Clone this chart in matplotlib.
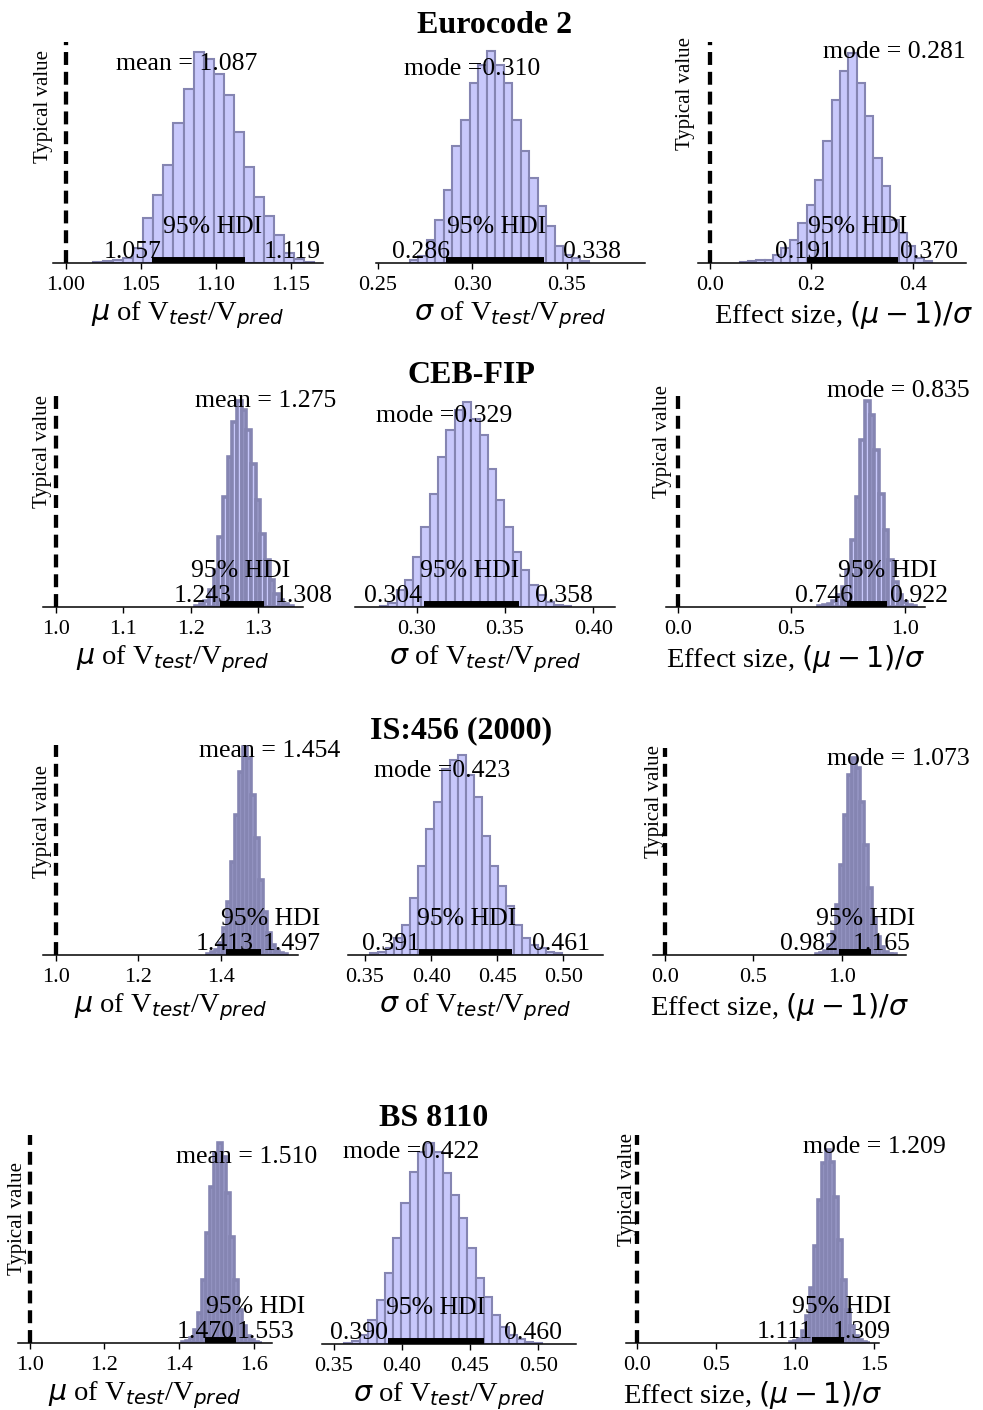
import numpy as np
import matplotlib
matplotlib.use("Agg")
from matplotlib import pyplot as plt

plt.rcParams['font.family'] = ['Liberation Serif', 'DejaVu Serif']
plt.rcParams['mathtext.fontset'] = 'dejavusans'

# --- data -----------------------------------------------------------------
codes = ["Eurocode 2", "CEB-FIP", "IS:456 (2000)", "BS 8110"]

# posterior histograms: first bin edge, bin width, relative bar heights
ec2_mu_start, ec2_mu_width = 1.018, 0.0067
ec2_mu_counts = [3, 5, 8, 15, 45, 135, 205, 295, 420, 525, 635, 615, 570, 505,
                 395, 290, 200, 140, 85, 30, 12, 4]
ec2_sd_start, ec2_sd_width = 0.267, 0.0045
ec2_sd_counts = [8, 20, 70, 130, 220, 350, 430, 540, 595, 638, 595, 540, 430,
                 335, 255, 170, 110, 50, 25, 15, 5]
ec2_es_start, ec2_es_width = 0.0585, 0.0165
ec2_es_counts = [3, 5, 8, 10, 25, 45, 70, 120, 175, 250, 365, 490, 575, 630,
                 540, 440, 315, 230, 130, 90, 50, 15, 5]

ceb_mu_start, ceb_mu_width = 1.2064, 0.0069
ceb_mu_counts = [3, 8, 18, 50, 110, 210, 330, 450, 555, 617, 590, 530, 430,
                 320, 220, 140, 80, 40, 20, 10, 4]
ceb_sd_start, ceb_sd_width = 0.2792, 0.0047
ceb_sd_counts = [4, 12, 50, 80, 150, 240, 340, 450, 530, 590, 614, 565, 515,
                 415, 320, 240, 165, 110, 65, 35, 15, 7, 2]
ceb_es_start, ceb_es_width = 0.6187, 0.0205
ceb_es_counts = [2, 5, 10, 18, 35, 60, 110, 200, 330, 500, 617, 575, 470, 340,
                 230, 140, 75, 35, 15, 6, 2]

is_mu_start, is_mu_width = 1.3653, 0.00968
is_mu_counts = [3, 8, 15, 35, 80, 160, 280, 420, 550, 625, 590, 480, 350, 225,
                130, 65, 30, 12, 5, 2]
is_sd_start, is_sd_width = 0.354, 0.00605
is_sd_counts = [5, 8, 20, 50, 90, 170, 265, 375, 455, 555, 580, 595, 535, 470,
                355, 265, 205, 145, 90, 50, 30, 20, 10, 5]
is_es_start, is_es_width = 0.857, 0.0226
is_es_counts = [2, 5, 12, 30, 70, 150, 270, 420, 540, 590, 560, 460, 330, 200,
                110, 55, 25, 10, 4, 2]

bs_mu_start, bs_mu_width = 1.4076, 0.01075
bs_mu_counts = [2, 6, 15, 40, 90, 190, 330, 470, 570, 600, 560, 450, 320, 190,
                100, 50, 20, 8, 3, 1]
bs_sd_start, bs_sd_width = 0.3573, 0.00605
bs_sd_counts = [4, 10, 27, 72, 132, 212, 317, 422, 517, 577, 602, 577, 512,
                447, 377, 287, 197, 142, 87, 52, 27, 14, 7, 4]
bs_es_start, bs_es_width = 0.969, 0.0253
bs_es_counts = [2, 5, 12, 35, 80, 165, 290, 430, 540, 580, 545, 440, 310, 190,
                100, 50, 22, 9, 3, 1]

# central statistic and 95% HDI per panel
ec2_stats = [("mean = ", 1.087, 1.057, 1.119), ("mode =", 0.310, 0.286, 0.338),
             ("mode = ", 0.281, 0.191, 0.370)]
ceb_stats = [("mean = ", 1.275, 1.243, 1.308), ("mode =", 0.329, 0.304, 0.358),
             ("mode = ", 0.835, 0.746, 0.922)]
is_stats = [("mean = ", 1.454, 1.413, 1.497), ("mode =", 0.423, 0.391, 0.461),
            ("mode = ", 1.073, 0.982, 1.165)]
bs_stats = [("mean = ", 1.510, 1.470, 1.553), ("mode =", 0.422, 0.390, 0.460),
            ("mode = ", 1.209, 1.111, 1.309)]

ticks = [
    ["1.00", "1.05", "1.10", "1.15"], ["0.25", "0.30", "0.35"], ["0.0", "0.2", "0.4"],
    ["1.0", "1.1", "1.2", "1.3"], ["0.30", "0.35", "0.40"], ["0.0", "0.5", "1.0"],
    ["1.0", "1.2", "1.4"], ["0.35", "0.40", "0.45", "0.50"], ["0.0", "0.5", "1.0"],
    ["1.0", "1.2", "1.4", "1.6"], ["0.35", "0.40", "0.45", "0.50"], ["0.0", "0.5", "1.0", "1.5"],
]
typical = [1.0, None, 0.0]
xlabels = [r'$\mu$ of V$_{test}$/V$_{pred}$', r'$\sigma$ of V$_{test}$/V$_{pred}$',
           r'Effect size, $(\mu-1)/\sigma$']

hists = [
    (ec2_mu_start, ec2_mu_width, ec2_mu_counts), (ec2_sd_start, ec2_sd_width, ec2_sd_counts),
    (ec2_es_start, ec2_es_width, ec2_es_counts),
    (ceb_mu_start, ceb_mu_width, ceb_mu_counts), (ceb_sd_start, ceb_sd_width, ceb_sd_counts),
    (ceb_es_start, ceb_es_width, ceb_es_counts),
    (is_mu_start, is_mu_width, is_mu_counts), (is_sd_start, is_sd_width, is_sd_counts),
    (is_es_start, is_es_width, is_es_counts),
    (bs_mu_start, bs_mu_width, bs_mu_counts), (bs_sd_start, bs_sd_width, bs_sd_counts),
    (bs_es_start, bs_es_width, bs_es_counts),
]
stats = ec2_stats + ceb_stats + is_stats + bs_stats

# --- layout (pixels of the 983x1410 picture) -------------------------------
W, H = 983, 1410
boxes = [(53, 323, 263, 42), (376, 645, 263, 42), (698, 966, 263, 42),
         (43, 303, 607, 395), (355, 615, 607, 395), (666, 925, 607, 394),
         (43, 298, 955, 745), (348, 603, 955, 745), (653, 906, 955, 748),
         (18, 272, 1343, 1135), (322, 576, 1344, 1135), (626, 879, 1343, 1135)]
xlims = [(0.9913, 1.1713), (0.2491, 0.3912), (-0.0237, 0.505),
         (0.9812, 1.3664), (0.2651, 0.4123), (-0.0515, 1.088),
         (0.9693, 1.5863), (0.3371, 0.5300), (-0.0654, 1.363),
         (0.9686, 1.6494), (0.3415, 0.5276), (-0.0676, 1.5335)]
peak_frac = [0.955, 0.961, 0.950, 0.970, 0.965, 0.965,
             0.992, 0.952, 0.950, 0.960, 0.960, 0.928]
stat_frac = [0.915, 0.886, 0.976, 0.974, 0.906, 1.023,
             0.95, 0.89, 0.966, 0.90, 0.927, 0.984]
stat_dx = [-10, -19, 42, 24, -24, 31, 26, -19, 44, 27, -21, 47]
lo_dx = [10, 4, 26, 12, -2, 6, 27, 1, -1, 30, 0, 0]
hi_dx = [19, 19, 2, 11, 16, 3, 2, 20, -18, 1, 20, -11]
hdi_dx = [15, 2, 5, -1, -2, 20, 27, 1, 11, 35, 0, 14]
label_dx = [0, 0, 12, 0, 0, 0, 0, 0, 0, 0, 0, 0]
tv_off = {0: (-13, 8), 2: (-15, -5), 3: (-4, 0), 5: (-6, -9),
          6: (-4, 20), 8: (-1, -3), 9: (-3, 27), 11: (0, -2)}
titles_xy = [(495, 33), (471, 383), (461, 738), (434, 1126)]

face = '#c8c8fb'
edge = '#8585b2'


def draw_panel(fig, i):
    l, r, b, t = boxes[i]
    ax = fig.add_axes([l / W, 1 - b / H, (r - l) / W, (b - t) / H])
    start, width, counts = hists[i]
    counts = np.array(counts, dtype=float)
    edges = start + width * np.arange(len(counts))
    # narrow bins end up almost all outline, as in the original
    bar_px = width * (r - l) / (xlims[i][1] - xlims[i][0])
    lw = 1.5 if bar_px > 6 else 2.6
    ax.bar(edges, counts, width=width, align='edge', color=face,
           edgecolor=edge, linewidth=lw, zorder=2)
    peak = counts.max()
    ax.set_ylim(0, peak / peak_frac[i])
    ax.set_xlim(*xlims[i])

    label, val, lo, hi = stats[i]
    ax.plot([lo, hi], [0, 0], color='k', lw=8.6, solid_capstyle='butt',
            zorder=4, clip_on=True)
    ax.annotate('%s%.3f' % (label, val), xy=(val, stat_frac[i] * peak),
                xytext=(stat_dx[i], 0), textcoords='offset pixels',
                ha='center', va='baseline', fontsize=18.5, zorder=5)
    ax.annotate('95% HDI', xy=((lo + hi) / 2, 0), xytext=(hdi_dx[i], 30),
                textcoords='offset pixels', ha='center', va='baseline',
                fontsize=18.5, zorder=5, annotation_clip=False)
    ax.annotate('%.3f' % lo, xy=(lo, 0), xytext=(lo_dx[i], 5),
                textcoords='offset pixels', ha='right', va='baseline',
                fontsize=18.5, zorder=5, annotation_clip=False)
    ax.annotate('%.3f' % hi, xy=(hi, 0), xytext=(hi_dx[i], 5),
                textcoords='offset pixels', ha='left', va='baseline',
                fontsize=18.5, zorder=5, annotation_clip=False)

    col = i % 3
    if typical[col] is not None:
        ax.axvline(typical[col], color='k', lw=3.1, ls=(0, (3.0, 1.6)), zorder=3)
        dx, dy = tv_off[i]
        ax.annotate('Typical value', xy=(typical[col], 1),
                    xycoords=('data', 'axes fraction'), xytext=(dx, -dy),
                    textcoords='offset pixels', rotation=90, ha='right',
                    va='top', fontsize=15, annotation_clip=False)

    tl = ticks[i]
    ax.set_xticks([float(s) for s in tl])
    ax.set_xticklabels(tl)
    ax.set_yticks([])
    for s in ['left', 'right', 'top']:
        ax.spines[s].set_visible(False)
    ax.spines['bottom'].set_linewidth(1.1)
    ax.tick_params(axis='x', direction='out', length=4.5, width=1.0,
                   labelsize=16, pad=5)
    ax.set_xlabel(xlabels[col], fontsize=20.5, labelpad=3,
                  x=0.5 + label_dx[i] / (r - l))
    ax.patch.set_alpha(0)
    return ax


def main():
    fig = plt.figure(figsize=(W / 100, H / 100), dpi=100)
    for i in range(12):
        draw_panel(fig, i)
    for name, (x, y) in zip(codes, titles_xy):
        fig.text(x / W, 1 - y / H, name, ha='center', va='baseline',
                 fontsize=23, fontweight='bold')
    fig.savefig('out.png', dpi=100)


if __name__ == "__main__":
    main()
